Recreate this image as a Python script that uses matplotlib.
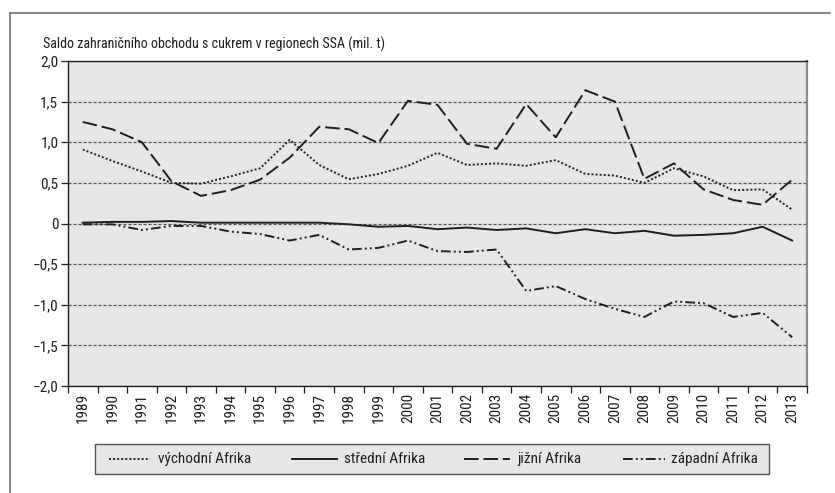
import matplotlib
matplotlib.use("Agg")
import matplotlib.pyplot as plt
from matplotlib.lines import Line2D
from matplotlib.patches import Rectangle
import numpy as np

years = list(range(1989, 2014))
vychodni = [0.91, 0.77, 0.64, 0.50, 0.49, 0.58, 0.68, 1.03, 0.72, 0.545, 0.61, 0.71, 0.87,
            0.72, 0.74, 0.71, 0.78, 0.61, 0.59, 0.50, 0.68, 0.58, 0.41, 0.42, 0.17]
stredni = [0.01, 0.02, 0.02, 0.03, 0.01, 0.01, 0.01, 0.01, 0.01, -0.01, -0.04, -0.03, -0.07,
           -0.05, -0.08, -0.06, -0.12, -0.07, -0.12, -0.09, -0.15, -0.14, -0.12, -0.04, -0.21]
jizni = [1.25, 1.16, 1.00, 0.52, 0.34, 0.41, 0.54, 0.81, 1.19, 1.16, 0.99, 1.51, 1.46,
         0.98, 0.92, 1.47, 1.06, 1.64, 1.50, 0.55, 0.74, 0.42, 0.29, 0.23, 0.54]
zapadni = [-0.01, -0.01, -0.08, -0.03, -0.03, -0.10, -0.13, -0.21, -0.14, -0.32, -0.30, -0.21, -0.34,
           -0.35, -0.32, -0.83, -0.77, -0.93, -1.05, -1.15, -0.96, -0.98, -1.15, -1.10, -1.40]
series_names = ["východní Afrika", "střední Afrika", "jižní Afrika", "západní Afrika"]
yticks = [2.0, 1.5, 1.0, 0.5, 0.0, -0.5, -1.0, -1.5, -2.0]
ytick_labels = ["2,0", "1,5", "1,0", "0,5", "0", "\u22120,5", "\u22121,0", "\u22121,5", "\u22122,0"]
title = "Saldo zahraničního obchodu s cukrem v regionech SSA (mil. t)"

plt.rcParams['font.family'] = ['Roboto Condensed', 'PT Sans Narrow', 'DejaVu Sans']

W, H = 835, 493
fig = plt.figure(figsize=(W/100, H/100), dpi=100)

def fx(px): return px / W
def fy(py): return 1 - py / H

INK = "#1e1e1e"

# outer frame (open at right and bottom, as cropped in the reference)
fig.add_artist(Line2D([fx(10), fx(830)], [fy(13), fy(13)], color="#6e6e6e", lw=1.2))
fig.add_artist(Line2D([fx(10), fx(10)], [fy(13), fy(493)], color="#6e6e6e", lw=1.2))

left, right, top, bottom = 68, 807, 61, 386
ax = fig.add_axes([fx(left), fy(bottom), fx(right - left), (bottom - top) / H])
ax.set_facecolor("#e6e7e8")

styles = [(0, (1, 1.1)), "-", (0, (7.5, 2.5)), (0, (5, 1.6, 1, 1.6, 1, 1.6))]
series = [vychodni, stredni, jizni, zapadni]
x = np.arange(len(years))
lw = 1.4
for vals, ls in zip(series, styles):
    ax.plot(x, vals, color=INK, lw=lw, ls=ls, zorder=3)

ax.set_xlim(-0.5, len(years) - 0.5)
ax.set_ylim(-2.0, 2.0)

for v in yticks:
    ax.axhline(v, color="#555555", lw=0.9, ls=(0, (2.5, 1.5)), zorder=1)

ax.set_yticks(yticks)
ax.set_yticklabels(ytick_labels, fontsize=11)
ax.tick_params(axis="y", length=5, width=0.9, pad=2, colors=INK)

ax.set_xticks(np.arange(len(years) + 1) - 0.5)
ax.set_xticklabels([])
ax.tick_params(axis="x", which="major", length=5, width=0.9, direction="out", colors=INK)
ax.set_xticks(x, minor=True)
ax.set_xticklabels([str(y) for y in years], minor=True, rotation=90, fontsize=11)
ax.tick_params(axis="x", which="minor", length=0, pad=5, colors=INK)

for s in ["left", "top", "bottom"]:
    ax.spines[s].set_color(INK)
    ax.spines[s].set_linewidth(1.0)
ax.spines["right"].set_color("#8a8a8a")
ax.spines["right"].set_linewidth(1.6)

fig.text(fx(43), fy(44), title, fontsize=10.1, va="center", ha="left", color=INK)

# legend box drawn by hand to match the reference placement
lx0, lx1, ly0, ly1 = 95, 769, 444, 474
fig.add_artist(Rectangle((fx(lx0), fy(ly1)), fx(lx1 - lx0), (ly1 - ly0) / H,
                         facecolor="#e6e7e8", edgecolor="#555555", lw=1.0))
handle_x = [(109, 150), (292, 337), (464, 510), (623, 665)]
text_x = [158, 344, 517, 671]
ly = fy(459)
for (hx0, hx1), tx, ls, name in zip(handle_x, text_x, styles, series_names):
    fig.add_artist(Line2D([fx(hx0), fx(hx1)], [ly, ly], color=INK, lw=lw, ls=ls))
    fig.text(fx(tx), ly, name, fontsize=11, va="center", ha="left", color=INK)

fig.savefig("out.png", dpi=100)
